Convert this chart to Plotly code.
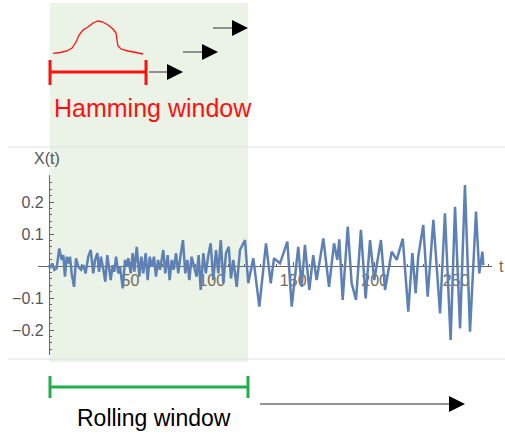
import numpy as np
import plotly.graph_objects as go

# ---- data ----
t = [0, 0.6, 2.0, 3.3, 4.7, 6.3, 7.8, 8.8, 9.8, 10.9, 11.9, 12.9, 13.9, 15.4, 16.6, 18.0, 19.7,
     21.1, 22.5, 24.1, 25.6, 27.2, 28.3, 29.7, 30.7, 31.9, 33.4, 34.6, 35.8, 36.9, 37.9, 39.1,
     40.1, 41.2, 42.6, 43.6, 45.3, 46.7, 47.7, 48.7, 50.2, 51.4, 52.4, 53.9, 55.5, 56.7, 57.9,
     59.4, 60.6, 61.9, 63.1, 64.5, 65.7, 67.0, 68.2, 70.2, 71.4, 72.9, 74.1, 75.4, 76.6, 78.0,
     79.4, 80.7, 82.3, 83.7, 85.0, 86.2, 87.6, 89.1, 90.7, 91.9, 93.2, 94.8, 96.3, 97.9, 99.3,
     100.9, 102.6, 104.0, 105.5, 107.1, 108.7, 110.4, 111.8, 113.2, 115.3, 117.3, 120.4, 122.4,
     125.5, 129.2, 133.3, 136.2, 138.2, 141.9, 146.4, 149.1, 153.1, 155.2, 157.2, 159.9, 162.3,
     164.4, 168.5, 172.0, 175.1, 177.1, 178.3, 180.4, 183.5, 185.9, 188.6, 191.6, 194.5, 197.2,
     199.8, 203.9, 206.4, 210.5, 213.6, 217.3, 220.7, 223.2, 225.2, 226.8, 229.9, 232.6, 236.1,
     240.2, 243.2, 246.7, 249.4, 252.5, 255.5, 258.6, 262.3, 264.3, 266.2, 266.8]
x_t = [0.003, -0.007, 0.008, -0.012, -0.007, 0.055, 0.019, 0.034, -0.033, 0.029, 0.008, 0.029,
       -0.023, -0.065, 0.024, -0.002, -0.012, 0.003, -0.023, 0.029, 0.05, -0.023, 0.019, 0.04,
       -0.018, 0.029, -0.012, -0.049, 0.034, -0.018, -0.044, 0.003, -0.018, 0.029, -0.023,
       -0.002, -0.07, 0.019, -0.002, 0.024, -0.023, 0.04, -0.018, 0.06, -0.033, 0.029, -0.023,
       0.04, -0.044, 0.029, -0.002, 0.029, -0.033, 0.019, -0.012, 0.05, -0.023, 0.034, -0.044,
       0.019, -0.012, 0.04, -0.023, 0.029, 0.081, -0.023, 0.019, -0.044, 0.029, -0.002, -0.033,
       0.034, -0.075, 0.04, -0.023, 0.034, 0.071, -0.044, 0.05, -0.023, 0.081, -0.054, 0.04,
       0.06, -0.039, 0.019, -0.065, 0.05, 0.081, -0.054,
       0.024, -0.127, 0.071, -0.054, 0.024, 0.008, 0.076, -0.127, 0.06, -0.065, 0.066, -0.075,
       0.034, -0.044, 0.086, -0.065, 0.071, 0.019, 0.083, -0.106, 0.123, -0.054, -0.106, 0.113,
       -0.101, 0.081, -0.044, 0.081, -0.075, 0.045, 0.019, 0.086, -0.143, 0.04, -0.085, 0.029,
       0.128, -0.096, 0.144, -0.148, 0.165, -0.231, 0.185, -0.195, 0.253, -0.205, 0.17, -0.023,
       0.045, 0.003]

x_ticks = [50, 100, 150, 200, 250]
y_ticks = [-0.2, -0.1, 0.1, 0.2]
y_labels = ["\u22120.2", "\u22120.1", "0.1", "0.2"]

W, H = 505, 439
def px(x): return x / W
def py(y): return 1 - y / H

fig = go.Figure()
fig.add_trace(go.Scatter(x=t, y=x_t, mode="lines",
                         line=dict(color="#5E81B5", width=2.5), hoverinfo="skip"))

axis_col = "#666666"
fig.update_layout(
    width=W, height=H, margin=dict(l=0, r=0, t=0, b=0),
    paper_bgcolor="white", plot_bgcolor="rgba(0,0,0,0)", showlegend=False,
    xaxis=dict(domain=[px(38), px(492)], range=[(38 - 49) / 1.628, (492 - 49) / 1.628],
               anchor="free", position=py(266), showgrid=False, zeroline=False,
               showline=True, linecolor=axis_col, linewidth=1.3,
               tickmode="array", tickvals=x_ticks, ticks="inside", ticklen=4,
               tickcolor=axis_col, tickfont=dict(family="Liberation Sans", size=16, color="#7a6a55"),
               minor=dict(tickmode="array", tickvals=[v for v in range(10, 271, 10) if v % 50],
                          ticks="inside", ticklen=2, tickcolor=axis_col),
               layer="below traces"),
    yaxis=dict(domain=[py(355), py(175)], range=[(266 - 355) / 320, (266 - 175) / 320],
               anchor="free", position=px(49), showgrid=False, zeroline=False,
               showline=True, linecolor=axis_col, linewidth=1.3,
               tickmode="array", tickvals=y_ticks, ticktext=y_labels, ticks="inside", ticklen=4,
               tickcolor=axis_col, tickfont=dict(family="Liberation Sans", size=16, color="#555555"),
               ticklabelstandoff=2,
               minor=dict(tickmode="array",
                          tickvals=[round(v, 2) for v in np.arange(-0.26, 0.28, 0.02)
                                    if abs(round(v * 10) - v * 10) > 1e-6],
                          ticks="inside", ticklen=2, tickcolor=axis_col),
               layer="below traces"),
)

shapes = []
# green rolling window area
shapes.append(dict(type="rect", xref="paper", yref="paper", x0=px(50), x1=px(248),
                   y0=py(362), y1=py(3), fillcolor="#EBF2E6", line=dict(width=0), layer="below"))
# frame lines
for yy in (147, 359):
    shapes.append(dict(type="line", xref="paper", yref="paper", x0=px(8), x1=px(505),
                       y0=py(yy), y1=py(yy), line=dict(color="#e2e2e2", width=1), layer="below"))
# red hamming bracket
red = "#FF1010"
shapes.append(dict(type="line", xref="paper", yref="paper", x0=px(50), x1=px(146),
                   y0=py(72), y1=py(72), line=dict(color=red, width=3)))
for xx in (50, 146):
    shapes.append(dict(type="line", xref="paper", yref="paper", x0=px(xx), x1=px(xx),
                       y0=py(60), y1=py(85), line=dict(color=red, width=3)))
# bell curve
bell = [(53, 53.3), (60, 52.5), (67, 51), (72, 48), (76, 42), (79, 35), (83, 30), (88, 27),
        (93, 23), (98, 21), (103, 22), (108, 25), (113, 29), (116, 33), (117, 40), (118, 46),
        (121, 49), (128, 51), (136, 52.5), (143, 54)]
path = "M " + " L ".join(f"{px(a):.5f},{py(b):.5f}" for a, b in bell)
shapes.append(dict(type="path", xref="paper", yref="paper", path=path,
                   line=dict(color=red, width=1.3)))
# green bracket
grn = "#1DB04B"
shapes.append(dict(type="line", xref="paper", yref="paper", x0=px(50), x1=px(248),
                   y0=py(387), y1=py(387), line=dict(color=grn, width=3)))
for xx in (50, 248):
    shapes.append(dict(type="line", xref="paper", yref="paper", x0=px(xx), x1=px(xx),
                       y0=py(376), y1=py(398), line=dict(color=grn, width=3)))
# arrow shafts
arrows = [(149, 183, 72), (183, 218, 52), (213, 248, 28), (260, 465, 404)]
for x0, x1, yy in arrows:
    shapes.append(dict(type="line", xref="paper", yref="paper", x0=px(x0), x1=px(x1 - 5),
                       y0=py(yy), y1=py(yy), line=dict(color="#707070", width=1.5)))
fig.update_layout(shapes=shapes)

ann = []
for x0, x1, yy in arrows:
    ann.append(dict(xref="paper", yref="paper", x=px(x1), y=py(yy), ax=-14, ay=0,
                    axref="pixel", ayref="pixel", text="", showarrow=True,
                    arrowhead=2, arrowsize=2.0, arrowwidth=1.6, arrowcolor="black"))
ann.append(dict(xref="paper", yref="paper", x=px(153), y=py(108), text="Hamming window",
                showarrow=False, font=dict(family="Liberation Sans", size=25, color=red),
                xanchor="center", yanchor="middle"))
ann.append(dict(xref="paper", yref="paper", x=px(153.5), y=py(418), text="Rolling window",
                showarrow=False, font=dict(family="Liberation Sans", size=23, color="black"),
                xanchor="center", yanchor="middle"))
ann.append(dict(xref="paper", yref="paper", x=px(47), y=py(158), text="X(t)",
                showarrow=False, font=dict(family="Liberation Sans", size=16, color="#555555"),
                xanchor="center", yanchor="middle"))
ann.append(dict(xref="paper", yref="paper", x=px(497), y=py(266), text="t",
                showarrow=False, font=dict(family="Liberation Sans", size=16, color="#7a6a55"),
                xanchor="left", yanchor="middle"))
fig.update_layout(annotations=ann)

fig.write_html("out.html")
